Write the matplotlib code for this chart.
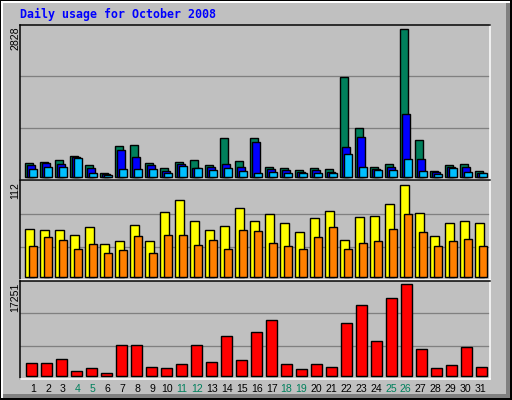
import matplotlib
matplotlib.use("Agg")
import matplotlib.pyplot as plt
from matplotlib.patches import Rectangle

# daily stats, October 2008
days = list(range(1, 32))
hits = [275, 294, 333, 410, 237, 83, 602, 621, 275, 179, 294, 333, 237, 755, 314, 755,
        198, 179, 141, 179, 160, 1926, 947, 198, 256, 2828, 717, 122, 237, 256, 122]
files = [237, 269, 256, 390, 179, 64, 525, 390, 237, 122, 256, 179, 198, 256, 198, 678,
         160, 141, 102, 141, 102, 582, 774, 160, 198, 1216, 352, 102, 198, 198, 83]
pages = [160, 198, 198, 371, 83, 45, 160, 160, 160, 83, 218, 179, 141, 179, 122, 83,
         102, 83, 83, 83, 83, 448, 198, 141, 141, 352, 122, 64, 179, 102, 83]
visits = [58, 57, 57, 51, 61, 40, 43, 63, 43, 79, 94, 68, 57, 62, 84, 68,
          76, 66, 55, 71, 80, 45, 73, 74, 89, 112, 78, 50, 66, 68, 65]
sites = [38, 48, 45, 34, 40, 29, 32, 50, 29, 51, 51, 39, 45, 34, 57, 56,
         41, 38, 34, 48, 60, 34, 41, 44, 58, 77, 55, 38, 44, 46, 37]
kbytes = [2518, 2518, 3274, 1007, 1574, 630, 5918, 5918, 1763, 1574, 2330, 5918, 2707, 7618,
          3085, 8374, 10640, 2330, 1385, 2330, 1763, 10074, 13473, 6674, 14607, 17251,
          5163, 1574, 2141, 5540, 1763]
weekends = [4, 5, 11, 12, 18, 19, 25, 26]

W, H = 512, 400
BG = "#c0c0c0"
GRID = "#808080"
PX = 0.72  # one pixel in points

fig = plt.figure(figsize=(W / 100, H / 100), dpi=100)
fig.patch.set_facecolor(BG)

# outer bevelled frame drawn in pixel coordinates
bg = fig.add_axes([0, 0, 1, 1])
bg.set_xlim(0, W)
bg.set_ylim(H, 0)
bg.axis("off")
bg.add_patch(Rectangle((0, 0), W, H, facecolor="black", edgecolor="none"))
bg.add_patch(Rectangle((1, 1), W - 3, H - 3, facecolor="white", edgecolor="none"))
bg.add_patch(Rectangle((3, 3), W - 5, H - 5, facecolor=GRID, edgecolor="none"))
bg.add_patch(Rectangle((3, 3), W - 9, H - 9, facecolor=BG, edgecolor="none"))

bg.text(20, 18, "Daily usage for October 2008", color="#0000ff", fontsize=8.4,
        family="DejaVu Sans Mono", weight="bold", va="baseline", ha="left")


def panel(y0, y1):
    ax = fig.add_axes([20 / W, 1 - y1 / H, 470 / W, (y1 - y0) / H])
    ax.set_facecolor(BG)
    for s in ("top", "left"):
        ax.spines[s].set_color("black")
    for s in ("bottom", "right"):
        ax.spines[s].set_color("white")
    for s in ax.spines.values():
        s.set_linewidth(PX * 1.5)
    ax.set_xlim(0.233, 31.567)
    ax.set_xticks([])
    ax.set_yticks([])
    return ax


def bars(ax, vals, left_px, width_px, color):
    # 15 px per day, offsets relative to the day centre
    x = [d + (left_px + width_px / 2) / 15 for d in days]
    ax.bar(x, vals, width=width_px / 15, color=color, edgecolor="black",
           linewidth=PX * 1.4, zorder=3)


def grid(ax, levels):
    for g in levels:
        ax.axhline(g, color=GRID, linewidth=PX * 1.3, zorder=1)


# hits / files / pages
ax1 = panel(25, 179.5)
ax1.set_ylim(-44, 2913)
grid(ax1, [948, 1928])
bars(ax1, hits, -6.5, 7.7, "#00805c")
bars(ax1, files, -4.2, 7.7, "#0000ff")
bars(ax1, pages, -2.2, 7.7, "#00c0ff")

# visits / sites
ax2 = panel(180.5, 279.5)
ax2.set_ylim(-3.3, 117.2)
grid(ax2, [36.5, 76.7])
bars(ax2, visits, -6.2, 8.4, "#ffff00")
bars(ax2, sites, -2.5, 7.7, "#ff8000")

# kbytes
ax3 = panel(280.5, 378.5)
ax3.set_ylim(-491, 18002)
grid(ax3, [5548, 11831])
bars(ax3, kbytes, -5.2, 10.4, "#ff0000")

# scale labels on the left, rotated
lab = dict(rotation=90, fontsize=7.6, family="Liberation Sans", ha="center", va="top")
bg.text(15.5, 27, "2828", **lab)
bg.text(15.5, 182, "112", **lab)
bg.text(15.5, 283, "17251", **lab)

# day numbers
for d in days:
    x = 31.5 + 15 * (d - 1) + 1.6 - 0.09 * (d - 1)
    col = "#00805c" if d in weekends else "black"
    bg.text(x, 388.5, str(d), color=col, fontsize=7.6, family="Liberation Sans",
            ha="center", va="center")

fig.savefig("out.png", dpi=100, facecolor=BG)
